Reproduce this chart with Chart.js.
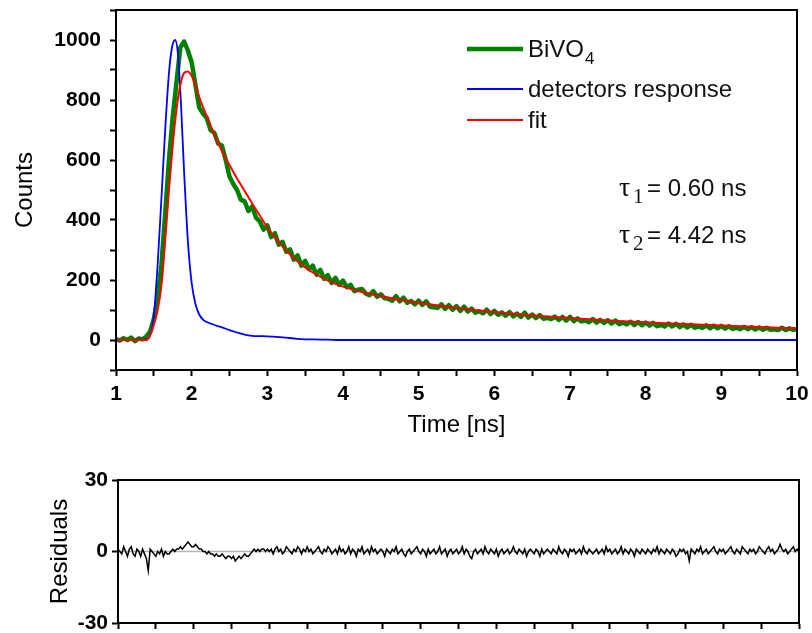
<!DOCTYPE html>
<html lang="en">

<head>
    <meta charset="UTF-8">
    <title>BiVO4 decay</title>
    <style>
        body {
            margin: 0;
            background: #fff;
        }

        .panel {
            position: absolute;
            left: 0;
        }
    </style>
</head>

<body>
    <canvas id="decay" class="panel" width="812" height="450" style="top:0"></canvas>
    <canvas id="resid" class="panel" width="812" height="183" style="top:450px"></canvas>

    <script src="https://cdn.jsdelivr.net/npm/chart.js"></script>
    <script>
        // sampling grids (ns)
        const tStart = 1;
        const countStep = 0.05;
        const residStep = 0.025;

        // BiVO4 counts, one value per 0.05 ns from 1.00 to 10.00
        const bivo4Counts = [
            3, -2, 6, 0, 8, -4, 5, 2, 12, 28,
            70, 140, 250, 420, 600, 745, 860, 975, 995, 965,
            925, 850, 775, 755, 740, 700, 690, 655, 648, 600,
            545, 520, 500, 468, 462, 430, 445, 408, 395, 368,
            382, 343, 356, 318, 327, 294, 302, 268, 282, 248,
            264, 236, 248, 218, 234, 204, 216, 190, 207, 184,
            198, 176, 184, 163, 168, 170, 155, 149, 163, 144,
            152, 139, 137, 131, 146, 129, 141, 124, 130, 119,
            131, 117, 129, 111, 109, 107, 119, 104, 116, 101,
            113, 97, 111, 95, 105, 91, 96, 89, 101, 87,
            97, 84, 92, 81, 93, 79, 88, 77, 91, 75,
            85, 73, 83, 71, 74, 70, 78, 67, 77, 65,
            77, 63, 72, 62, 65, 59, 70, 58, 67, 57,
            66, 55, 65, 53, 58, 52, 61, 50, 60, 49,
            58, 48, 57, 46, 50, 45, 55, 45, 54, 43,
            52, 42, 51, 41, 45, 40, 49, 39, 48, 39,
            47, 38, 46, 37, 41, 36, 44, 36, 43, 35,
            42, 34, 41, 34, 36, 33, 41, 33, 39, 34,
            37
        ];

        // instrument (detector) response
        const irfTime = [1.0, 1.40, 1.45, 1.50, 1.55, 1.60, 1.65, 1.70, 1.74, 1.78, 1.82, 1.86, 1.90, 1.95, 2.00,
            2.05, 2.10, 2.15, 2.20, 2.25, 2.30, 2.40, 2.50, 2.60, 2.70, 2.80, 2.90, 3.00, 3.20, 3.40, 3.60, 3.80, 4.0, 10];
        const irfCounts = [0, 2, 15, 80, 250, 470, 700, 890, 975, 1000, 950, 780, 560, 330, 190,
            120, 85, 68, 60, 55, 50, 42, 33, 25, 18, 14, 13, 12, 9, 4, 2, 1, 0, 0];

        // biexponential fit (tau1 = 0.60 ns, tau2 = 4.42 ns)
        const fitTime = [1.0, 1.40, 1.45, 1.50, 1.55, 1.60, 1.65, 1.70, 1.75, 1.80, 1.85, 1.90, 1.95, 2.00, 2.05,
            2.10, 2.20, 2.30, 2.40, 2.50, 2.60, 2.70, 2.80, 2.90, 3.00, 3.10, 3.20, 3.30, 3.40, 3.50, 3.60, 3.80,
            4.0, 4.25, 4.5, 4.75, 5.0, 5.5, 6.0, 6.5, 7.0, 7.5, 8.0, 8.5, 9.0, 9.5, 10.0];
        const fitCounts = [0, 0, 15, 50, 100, 180, 330, 500, 650, 770, 850, 890, 895, 880, 850,
            810, 745, 685, 630, 583, 538, 497, 455, 415, 375, 342, 312, 285, 262, 242, 225, 198,
            178, 160, 146, 134, 124, 107, 93, 82, 73, 65, 59, 53, 48, 43, 39];

        // residuals, one value per 0.025 ns from 1.000 to 10.000
        const residuals = [
            1, 0, -1, 2, 0, -2, 1, 2, -1, -2, 1, 0, -2, 1, -1, -3, -8, 1, 0, -1,
            -2, 0, -1, 1, -2, 0, -1, -1, 0, 1, 0, 1, 1, 2, 1, 2, 3, 4, 3, 2,
            2, 3, 2, 1, 1, 0, 0, -1, 0, -1, -1, -2, -1, -2, -2, -1, -2, -3, -2, -2,
            -3, -2, -4, -3, -2, -3, -2, -1, -2, -2, -1, 0, 1, 0, 1, 0, 1, 1, 0, 1,
            0, 1, -1, 1, 2, 0, 1, -1, 0, 2, 1, 0, -1, 1, 0, 2, 1, -1, 1, 0,
            2, 0, 1, -1, 0, 1, 2, 0, -1, 1, 0, 2, 1, -1, 0, 1, -1, 2, 0, 1,
            -1, 0, 2, -1, 1, 0, -2, 1, 0, 2, -1, 0, 1, -1, 2, 0, 1, -1, 0, 1,
            0, -2, 1, 0, -1, 1, 0, 2, -1, 0, 1, -1, -2, 0, 1, -1, 0, 1, 2, 0,
            -1, 1, 0, -2, 1, -1, 0, 1, -1, 0, 2, -1, 0, 1, -2, 0, 1, -1, 0, 1,
            -1, 0, 2, -1, 1, 0, -2, -3, 0, 1, -1, 0, 1, -1, 2, 0, -1, 1, 0, -1,
            1, -2, 0, 1, -1, 0, 1, -1, 0, 2, 0, -1, 1, 0, -1, 1, -2, 0, 1, 0,
            -1, 1, 0, -2, 1, -1, 0, 1, 0, -1, 1, 0, -1, 2, 0, -1, 1, 0, -2, 1,
            0, 1, -1, 0, 1, -1, 2, 0, -1, 1, 0, -1, 0, 1, -1, 0, 1, -1, 2, 0,
            1, -1, 0, 1, -1, 0, 2, -1, 1, 0, -1, 1, 0, -2, 1, 0, -1, 1, 0, -1,
            1, 0, -1, 1, 0, 2, -1, 1, 0, -1, 1, 0, -1, 1, 0, -2, -1, 1, 0, 1,
            -1, 0, -4, 1, 0, -1, 1, 0, 2, -1, 0, 1, -1, 0, 1, 2, 0, -1, 1, 0,
            1, -1, 0, 1, 2, 0, -1, 1, 0, -1, 2, 1, 0, -1, 1, 0, 1, -1, 0, 2,
            1, 0, -1, 1, 2, 0, 1, -1, 0, 1, 3, 1, 0, 1, -1, 0, 1, 2, 0, 1,
            0
        ];

        const countTicks = [0, 200, 400, 600, 800, 1000];
        const residTicks = [-30, 0, 30];

        const onGrid = (ys, step) => ys.map((y, i) => ({ x: +(tStart + i * step).toFixed(3), y: y }));
        const pairs = (xs, ys) => ys.map((y, i) => ({ x: xs[i], y: y }));

        const sans = 'Liberation Sans, Arial, sans-serif';
        const serif = 'Liberation Serif, Times New Roman, serif';

        // black box round the plot area
        const frame = {
            id: 'frame',
            afterDraw(chart) {
                const { ctx, chartArea: a } = chart;
                ctx.save();
                ctx.lineWidth = 2;
                ctx.strokeStyle = '#000';
                ctx.strokeRect(a.left, a.top, a.right - a.left, a.bottom - a.top);
                ctx.restore();
            }
        };

        // legend and lifetimes written inside the upper panel
        const notes = {
            id: 'notes',
            afterDraw(chart) {
                const ctx = chart.ctx;
                const rows = [
                    { ds: 2, y: 49, text: 'BiVO', sub: '4' },
                    { ds: 1, y: 89, text: 'detectors response' },
                    { ds: 0, y: 120, text: 'fit' }
                ];
                ctx.save();
                rows.forEach(r => {
                    const ds = chart.data.datasets[r.ds];
                    ctx.strokeStyle = ds.borderColor;
                    ctx.lineWidth = ds.borderWidth;
                    ctx.beginPath();
                    ctx.moveTo(467, r.y);
                    ctx.lineTo(523, r.y);
                    ctx.stroke();
                    ctx.fillStyle = '#111';
                    ctx.font = '24px ' + sans;
                    ctx.textBaseline = 'alphabetic';
                    ctx.fillText(r.text, 528, r.y + 8);
                    if (r.sub) {
                        const w = ctx.measureText(r.text).width;
                        ctx.font = '17px ' + sans;
                        ctx.fillText(r.sub, 528 + w + 1, r.y + 15);
                    }
                });

                [['1', '0.60', 196], ['2', '4.42', 243]].forEach(([n, v, y]) => {
                    ctx.font = '28px ' + serif;
                    ctx.fillText('\u03c4', 619, y);
                    ctx.font = '21px ' + serif;
                    ctx.fillText(n, 633, y + 7);
                    ctx.font = '24px ' + sans;
                    ctx.fillText('= ' + v + ' ns', 647, y);
                });
                ctx.restore();
            }
        };

        const tickFont = { family: sans, size: 21, weight: 'bold' };
        const titleFont = { family: sans, size: 24 };
        const axisGrid = { drawOnChartArea: false, drawTicks: true, tickLength: 6, color: '#000', tickWidth: 2 };
        const axisBorder = { display: true, color: '#000', width: 2 };

        // fixed box sizes so the plot areas sit where the original ones do
        const fixHeight = h => s => { s.height = h; s.paddingLeft = 0; s.paddingRight = 0; };
        const fixWidth = w => s => { s.width = w; s.paddingTop = 0; s.paddingBottom = 0; };

        new Chart(document.getElementById('decay'), {
            type: 'line',
            data: {
                datasets: [
                    { label: 'fit', data: pairs(fitTime, fitCounts), borderColor: '#ff0000', borderWidth: 2, cubicInterpolationMode: 'monotone' },
                    { label: 'detectors response', data: pairs(irfTime, irfCounts), borderColor: '#0000ff', borderWidth: 1.8, cubicInterpolationMode: 'monotone' },
                    { label: 'BiVO4', data: onGrid(bivo4Counts, countStep), borderColor: '#008000', borderWidth: 4.5 }
                ]
            },
            options: {
                responsive: false,
                animation: false,
                devicePixelRatio: 1,
                layout: { padding: { left: 0, top: 10, right: 15, bottom: 0 } },
                elements: { point: { radius: 0 }, line: { borderJoinStyle: 'round' } },
                plugins: { legend: { display: false }, tooltip: { enabled: false } },
                scales: {
                    x: {
                        type: 'linear',
                        min: 1,
                        max: 10,
                        afterFit: fixHeight(80),
                        grid: axisGrid,
                        border: axisBorder,
                        ticks: {
                            stepSize: 0.5,
                            autoSkip: false,
                            maxRotation: 0,
                            padding: 6,
                            color: '#000',
                            font: tickFont,
                            callback: v => Number.isInteger(v) ? v : ''
                        },
                        title: { display: true, text: 'Time [ns]', color: '#000', font: titleFont, padding: { top: 0, bottom: 10 } }
                    },
                    y: {
                        min: -100,
                        max: 1100,
                        afterFit: fixWidth(116),
                        grid: axisGrid,
                        border: axisBorder,
                        ticks: {
                            stepSize: 100,
                            autoSkip: false,
                            padding: 9,
                            color: '#000',
                            font: tickFont,
                            callback: v => countTicks.includes(v) ? v : ''
                        },
                        title: { display: true, text: 'Counts', color: '#000', font: titleFont, padding: { top: 11, bottom: 0 } }
                    }
                }
            },
            plugins: [frame, notes]
        });

        new Chart(document.getElementById('resid'), {
            type: 'line',
            data: {
                datasets: [
                    { label: 'residuals', data: onGrid(residuals, residStep), borderColor: '#000', borderWidth: 1.5 },
                    { label: 'zero', data: pairs([1, 10], [0, 0]), borderColor: '#b4b4b4', borderWidth: 1.5 }
                ]
            },
            options: {
                responsive: false,
                animation: false,
                devicePixelRatio: 1,
                layout: { padding: { left: 0, top: 30, right: 13, bottom: 0 } },
                elements: { point: { radius: 0 } },
                plugins: { legend: { display: false }, tooltip: { enabled: false } },
                scales: {
                    x: {
                        type: 'linear',
                        min: 1,
                        max: 10,
                        afterFit: fixHeight(10),
                        grid: axisGrid,
                        border: axisBorder,
                        ticks: { stepSize: 0.5, autoSkip: false, display: false }
                    },
                    y: {
                        min: -30,
                        max: 30,
                        afterFit: fixWidth(118),
                        grid: axisGrid,
                        border: axisBorder,
                        ticks: {
                            stepSize: 30,
                            padding: 4,
                            color: '#000',
                            font: tickFont,
                            callback: v => residTicks.includes(v) ? v : ''
                        },
                        title: { display: true, text: 'Residuals', color: '#000', font: titleFont, padding: { top: 46, bottom: 0 } }
                    }
                }
            },
            plugins: [frame]
        });
    </script>
</body>

</html>
